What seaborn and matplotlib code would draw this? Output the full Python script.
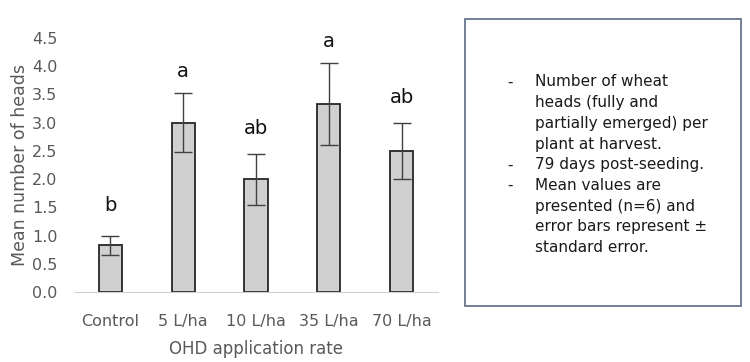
import numpy as np
import pandas as pd
import matplotlib
matplotlib.use('Agg')
import matplotlib.pyplot as plt
import seaborn as sns
from matplotlib.patches import Rectangle

# data
rates = ['Control', '5 L/ha', '10 L/ha', '35 L/ha', '70 L/ha']
mean_heads = [0.83, 3.0, 2.0, 3.33, 2.5]
std_err = [0.17, 0.52, 0.45, 0.72, 0.5]
letters = ['b', 'a', 'ab', 'a', 'ab']
letter_y = [1.54, 3.9, 2.9, 4.43, 3.45]
y_ticks = [0.0, 0.5, 1.0, 1.5, 2.0, 2.5, 3.0, 3.5, 4.0, 4.5]

note_lines = [
    ('-', 'Number of wheat'),
    ('', 'heads (fully and'),
    ('', 'partially emerged) per'),
    ('', 'plant at harvest.'),
    ('-', '79 days post-seeding.'),
    ('-', 'Mean values are'),
    ('', 'presented (n=6) and'),
    ('', 'error bars represent \u00b1'),
    ('', 'standard error.'),
]

df = pd.DataFrame({'rate': rates, 'heads': mean_heads})

sns.set_style('white')
plt.rcParams['font.family'] = ['DejaVu Sans']

fig = plt.figure(figsize=(7.5, 3.62), dpi=100)
ax = fig.add_axes([74 / 750, 1 - 292 / 362, 364 / 750, 254 / 362])

sns.barplot(data=df, x='rate', y='heads', color='#d0d0d0', edgecolor='#262626',
            linewidth=1.3, width=0.32, saturation=1, errorbar=None, ax=ax)
ax.errorbar(np.arange(len(rates)), mean_heads, yerr=std_err, fmt='none',
            ecolor='#404040', elinewidth=1.0, capsize=6.5, capthick=1.0)

for i, (lt, ly) in enumerate(zip(letters, letter_y)):
    ax.text(i, ly, lt, ha='center', va='center', fontsize=14, color='#111111')

ax.set_xlim(-0.5, 4.5)
ax.set_ylim(0, 4.5)
ax.set_yticks(y_ticks)
ax.set_yticklabels([f'{t:.1f}' for t in y_ticks])
ax.tick_params(axis='both', length=0, labelsize=11.5, colors='#595959')
ax.tick_params(axis='y', pad=12)
ax.tick_params(axis='x', pad=16)
ax.set_xlabel('OHD application rate', fontsize=12, color='#595959', labelpad=8)
ax.set_ylabel('Mean number of heads', fontsize=12.5, color='#595959', labelpad=2)
for s in ['top', 'right', 'left']:
    ax.spines[s].set_visible(False)
ax.spines['bottom'].set_color('#d0d0d0')

# text box on the right
box = Rectangle((465 / 750, 1 - 306 / 362), 276 / 750, 287 / 362, transform=fig.transFigure,
                facecolor='white', edgecolor='#5a6a86', linewidth=1.2)
fig.patches.append(box)
y0 = 82
for k, (dash, line) in enumerate(note_lines):
    yy = 1 - (y0 + k * 20.7) / 362
    if dash:
        fig.text(507 / 750, yy, dash, fontsize=11, va='center', color='#1a1a1a')
    fig.text(535 / 750, yy, line, fontsize=11, va='center', color='#1a1a1a')

fig.savefig('out.png', dpi=100)
